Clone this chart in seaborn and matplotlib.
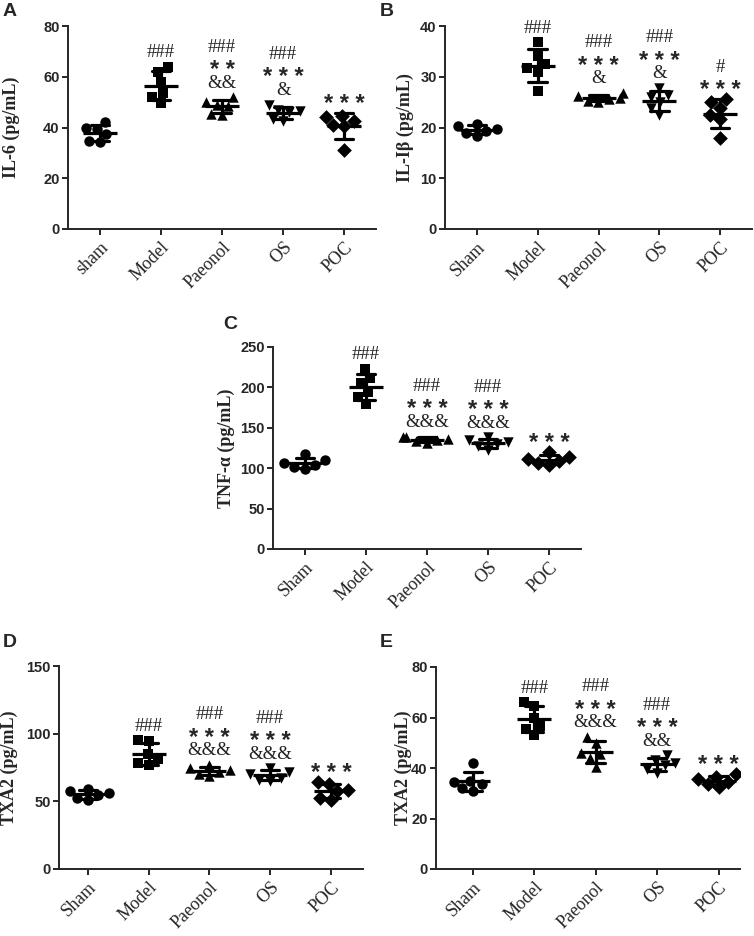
import numpy as np
import pandas as pd
import matplotlib.pyplot as plt
import seaborn as sns

# groups on the x axis (panel A writes "sham" in lower case)
groups_a = ['sham', 'Model', 'Paeonol', 'OS', 'POC']
groups = ['Sham', 'Model', 'Paeonol', 'OS', 'POC']
markers = ['o', 's', '^', 'v', 'D']

# values, one list per group
il6 = [[42, 39.5, 40, 37.5, 34.5, 34.2],
       [64, 62, 58, 53.5, 52, 49.5],
       [52, 50, 49, 48.5, 45.5, 45],
       [49, 47, 46.5, 46, 43.5, 42.5],
       [44.5, 44, 42.5, 41, 40.5, 31]]
il1b = [[20.7, 20.2, 19.8, 19.4, 18.9, 18.4],
        [36.8, 34, 32.5, 31.7, 31, 27.1],
        [26.8, 26.2, 25.9, 25.7, 25.3, 25.0],
        [27.8, 26.4, 26, 25, 23.8, 22.4],
        [25.6, 25, 23.8, 22.5, 21.6, 17.9]]
tnfa = [[117.5, 110, 106, 104.5, 101, 99.5],
        [223, 212, 205, 194.5, 188, 179],
        [139, 138, 136.5, 135, 133.5, 131],
        [138, 135, 132.5, 130, 127, 123],
        [120, 114, 111, 108.5, 106, 104]]
txa2_d = [[59, 58, 56, 54.5, 52.5, 51],
          [95, 94.5, 85, 81, 78.5, 76.5],
          [77, 74.5, 73, 72, 70.5, 68.5],
          [74.5, 72, 70, 67.5, 66, 65],
          [64, 63, 58.5, 57.5, 52.5, 51]]
txa2_e = [[42, 35, 34.5, 33.5, 32, 31],
          [66, 64.5, 60, 56.5, 55.5, 53],
          [52.3, 50, 46, 45.7, 44, 40.4],
          [45, 43, 42, 41, 39.5, 38],
          [37.5, 36.5, 35.5, 34.5, 33.5, 32.5]]

# significance marks, listed from bottom to top for each group
il6_marks = [[], ['###'], ['&&', '**', '###'], ['&', '***', '###'], ['***']]
il1b_marks = [[], ['###'], ['&', '***', '###'], ['&', '***', '###'], ['***', '#']]
tnfa_marks = [[], ['###'], ['&&&', '***', '###'], ['&&&', '***', '###'], ['***']]
txa2_d_marks = [[], ['###'], ['&&&', '***', '###'], ['&&&', '***', '###'], ['***']]
txa2_e_marks = [[], ['###'], ['&&&', '***', '###'], ['&&', '***', '###'], ['***']]

W, H = 754, 936
SERIF = ['Liberation Serif', 'DejaVu Serif']
SANS = ['Liberation Sans', 'DejaVu Sans']


def draw_panel(box, values, labels, ylabel, yticks, marks, letter, xlim, label_dx, letter_xy):
    left, right, top, bottom = box
    ax = fig.add_axes([left / W, 1 - bottom / H, (right - left) / W, (bottom - top) / H])
    df = pd.DataFrame({'group': np.repeat(labels, [len(v) for v in values]),
                       'value': np.concatenate(values)})
    for g, m in zip(labels, markers):
        sns.swarmplot(data=df[df['group'] == g], x='group', y='value', order=labels,
                      marker=m, color='black', size=7.5, linewidth=0, ax=ax, zorder=2)
    sns.pointplot(data=df, x='group', y='value', order=labels, errorbar='sd', capsize=0.3,
                  color='black', markers='_', markersize=25, markeredgewidth=2.3,
                  linestyle='none', err_kws={'linewidth': 2.3}, ax=ax, zorder=3)

    # stack the significance marks above each group
    for i, stack in enumerate(marks):
        v = np.array(values[i])
        top_v = max(v.max(), v.mean() + v.std(ddof=1))
        for j, s in enumerate(stack):
            dy = (14 + 18 * j) * 0.72
            if s.startswith('*'):
                ax.annotate(' '.join(s), (i, top_v), xytext=(0, dy - 3.8), textcoords='offset points',
                            ha='center', va='center', fontsize=17, fontweight='bold',
                            family=SANS, annotation_clip=False)
            else:
                ax.annotate(s, (i, top_v), xytext=(0, dy), textcoords='offset points',
                            ha='center', va='center', fontsize=13.5, family=SERIF,
                            color='#222222', annotation_clip=False)

    ax.set_xlim(*xlim)
    ax.set_ylim(yticks[0], yticks[-1])
    ax.set_yticks(yticks)
    ax.set_xlabel('')
    ax.set_ylabel(ylabel, family=SERIF, fontweight='bold', fontsize=13)
    ax.yaxis.set_label_coords(label_dx / (right - left), 0.5)
    ax.set_xticks(range(len(labels)))
    ax.set_xticklabels(labels, rotation=45, ha='right', rotation_mode='anchor',
                       family=SERIF, fontsize=13)
    for t in ax.get_yticklabels():
        t.set_family(SANS)
        t.set_fontweight('bold')
        t.set_fontsize(10.5)
    ax.tick_params(axis='both', length=4, width=1.4, pad=2)
    ax.tick_params(axis='x', pad=3)
    sns.despine(ax=ax)
    for sp in ['left', 'bottom']:
        ax.spines[sp].set_linewidth(1.4)
    fig.text(letter_xy[0] / W, 1 - letter_xy[1] / H, letter, fontsize=14, fontweight='bold',
             family=SANS, va='top', ha='left')
    return ax


sns.set_style('ticks')
plt.rcParams['font.family'] = SANS
fig = plt.figure(figsize=(W / 100, H / 100), dpi=100)

draw_panel((68, 376, 26, 229), il6, groups_a, 'IL-6 (pg/mL)', [0, 20, 40, 60, 80],
           il6_marks, 'A', (-0.52, 4.52), -48, (3, 3))
draw_panel((445, 752, 26, 229), il1b, groups, 'IL-Iβ (pg/mL)', [0, 10, 20, 30, 40],
           il1b_marks, 'B', (-0.52, 4.52), -31, (380, 3))
draw_panel((273, 581, 347, 549), tnfa, groups, 'TNF-α (pg/mL)', [0, 50, 100, 150, 200, 250],
           tnfa_marks, 'C', (-0.52, 4.52), -38, (223, 316))
draw_panel((59, 363, 666, 869), txa2_d, groups, 'TXA2 (pg/mL)', [0, 50, 100, 150],
           txa2_d_marks, 'D', (-0.48, 4.53), -41, (3, 634))
draw_panel((436, 740, 667, 869), txa2_e, groups, 'TXA2 (pg/mL)', [0, 20, 40, 60, 80],
           txa2_e_marks, 'E', (-0.6, 4.35), -24, (380, 634))

fig.savefig('out.png', dpi=100)
